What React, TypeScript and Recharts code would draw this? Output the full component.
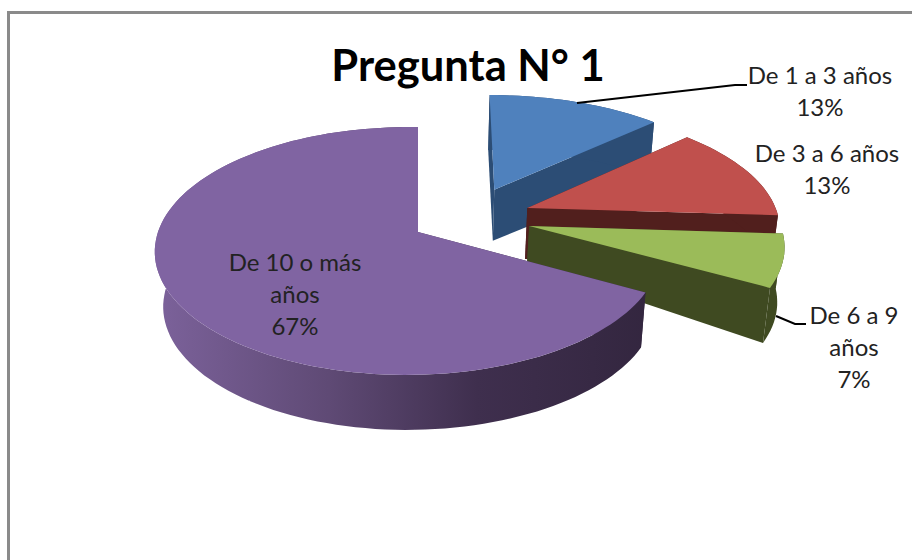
import { Pie, PieChart } from "recharts";

const categories = ["De 1 a 3 años", "De 3 a 6 años", "De 6 a 9 años", "De 10 o más años"];
const shares = [13, 13, 7, 67];
const labelRows = [["De 1 a 3 años"], ["De 3 a 6 años"], ["De 6 a 9", "años"], ["De 10 o más", "años"]];
const topColors = ["#4f81bd", "#c0504d", "#9bbb59", "#8064a2"];
const wallColors = ["#2c4d75", "#511f1d", "#3f4a21", "url(#purpleWall)"];

const data = categories.map((name, i) => ({ name, value: shares[i] }));

const FONT = "Lato, 'Open Sans', sans-serif";
const WIDTH = 912;
const HEIGHT = 560;

// fake 3D: the flat pie is projected on a tilted plane
const PERSPECTIVE = 0.153;
const TILT = 0.465;
const RIM_DEPTH = 55;
const BASE_SHRINK_RIGHT = 0.98;
const BASE_SHRINK_LEFT = 0.968;

// x/y: explosion in pie-plane units, r: radius scale, lean: sideways perspective, skew: px per unit of y
const sliceLayout = [
  { x: 0.31, y: -0.37, r: 1, lean: 0, skew: -5, apexDepth: 51 },
  { x: 0.44, y: -0.205, r: 0.985, lean: 0, skew: -8, apexDepth: 51 },
  { x: 0.442, y: -0.05, r: 0.975, lean: 0, skew: -12, apexDepth: 38 },
  { x: 0, y: 0, r: 0.96, lean: 0.04, skew: 0, apexDepth: 55 },
];

// label anchors, with optional leader line
const labelLayout = [
  { x: 820, y: 84, leader: [[577, 103], [735, 85], [747, 85]] },
  { x: 827, y: 162 },
  { x: 854, y: 324, leader: [[776, 316], [795, 324], [806, 324]] },
  { x: 295, y: 271 },
];

type Pt = [number, number];

const toPath = (pts: Pt[]) =>
  pts.map((p, i) => `${i ? "L" : "M"}${p[0].toFixed(1)} ${p[1].toFixed(1)}`).join(" ") + " Z";

function Slice3D(props: any) {
  const { cx, cy, outerRadius, startAngle, endAngle, index } = props;
  const layout = sliceLayout[index];
  const R = outerRadius * layout.r;

  const project = (X: number, Y: number): Pt => {
    const p = 1 / (1 - PERSPECTIVE * Y + layout.lean * X);
    return [cx + R * X * p + layout.skew * (Y - layout.y), cy + outerRadius * TILT * Y * p];
  };
  const rimAt = (deg: number): Pt => {
    const t = ((90 - deg) * Math.PI) / 180;
    return project(layout.x + Math.sin(t), layout.y - Math.cos(t));
  };
  const drop = (pt: Pt, depth: number): Pt => {
    const dx = pt[0] - cx;
    return [cx + dx * (dx < 0 ? BASE_SHRINK_LEFT : BASE_SHRINK_RIGHT), pt[1] + depth];
  };

  const rim: Pt[] = [];
  const steps = Math.ceil(Math.abs(startAngle - endAngle) / 2);
  for (let i = 0; i <= steps; i++) {
    rim.push(rimAt(startAngle + ((endAngle - startAngle) * i) / steps));
  }
  const apex = project(layout.x, layout.y);
  const apexBase = drop(apex, layout.apexDepth);
  const first = rim[0];
  const last = rim[rim.length - 1];
  const wall = wallColors[index];
  // outer wall as one path of small quads so the silhouette stays filled
  const rimWall = rim
    .slice(1)
    .map((pt, i) => toPath([rim[i], pt, drop(pt, RIM_DEPTH), drop(rim[i], RIM_DEPTH)]))
    .join(" ");

  return (
    <g>
      {index === 3 && (
        <defs>
          <linearGradient id="purpleWall" gradientUnits="userSpaceOnUse" x1="155" y1="0" x2="650" y2="0">
            <stop offset="0%" stopColor="#7c629b" />
            <stop offset="35%" stopColor="#5f4a75" />
            <stop offset="65%" stopColor="#3f2f4e" />
            <stop offset="100%" stopColor="#33263f" />
          </linearGradient>
        </defs>
      )}
      <path d={toPath([apex, first, drop(first, RIM_DEPTH), apexBase])} fill={wall} />
      <path d={toPath([apex, last, drop(last, RIM_DEPTH), apexBase])} fill={wall} />
      <path d={rimWall} fill={wall} />
      <path d={toPath([apex, ...rim])} fill={topColors[index]} />
    </g>
  );
}

function SliceLabel(props: any) {
  const { index, value } = props;
  const spot = labelLayout[index];
  const rows = [...labelRows[index], `${value}%`];
  return (
    <g>
      {spot.leader && (
        <polyline
          points={spot.leader.map((p) => p.join(",")).join(" ")}
          fill="none"
          stroke="#000"
          strokeWidth={2}
        />
      )}
      <text x={spot.x} y={spot.y} textAnchor="middle" fontFamily={FONT} fontSize={24} fill="#222">
        {rows.map((row, i) => (
          <tspan key={i} x={spot.x} y={spot.y + i * 32}>
            {row}
          </tspan>
        ))}
      </text>
    </g>
  );
}

export default function App() {
  return (
    <div style={{ position: "absolute", left: 0, top: 0, width: WIDTH, height: HEIGHT, background: "#fff" }}>
      <style>{"body{margin:0}"}</style>
      <div
        style={{
          position: "absolute",
          left: 7,
          top: 11,
          right: 0,
          bottom: 0,
          borderTop: "3px solid #8a8a8a",
          borderLeft: "3px solid #8a8a8a",
        }}
      />
      <div
        style={{
          position: "absolute",
          left: 268,
          width: 400,
          top: 38,
          textAlign: "center",
          fontFamily: FONT,
          fontWeight: 700,
          fontSize: 43.5,
          lineHeight: "52px",
          color: "#000",
        }}
      >
        Pregunta N° 1
      </div>
      <div style={{ position: "absolute", left: 0, top: 0 }}>
        <PieChart width={WIDTH} height={HEIGHT} margin={{ top: 0, right: 0, bottom: 0, left: 0 }}>
          <Pie
            data={data}
            dataKey="value"
            nameKey="name"
            cx={418}
            cy={232}
            outerRadius={260}
            startAngle={90}
            endAngle={-270}
            stroke="none"
            isAnimationActive={false}
            shape={Slice3D}
            label={SliceLabel}
            labelLine={false}
          />
        </PieChart>
      </div>
    </div>
  );
}
